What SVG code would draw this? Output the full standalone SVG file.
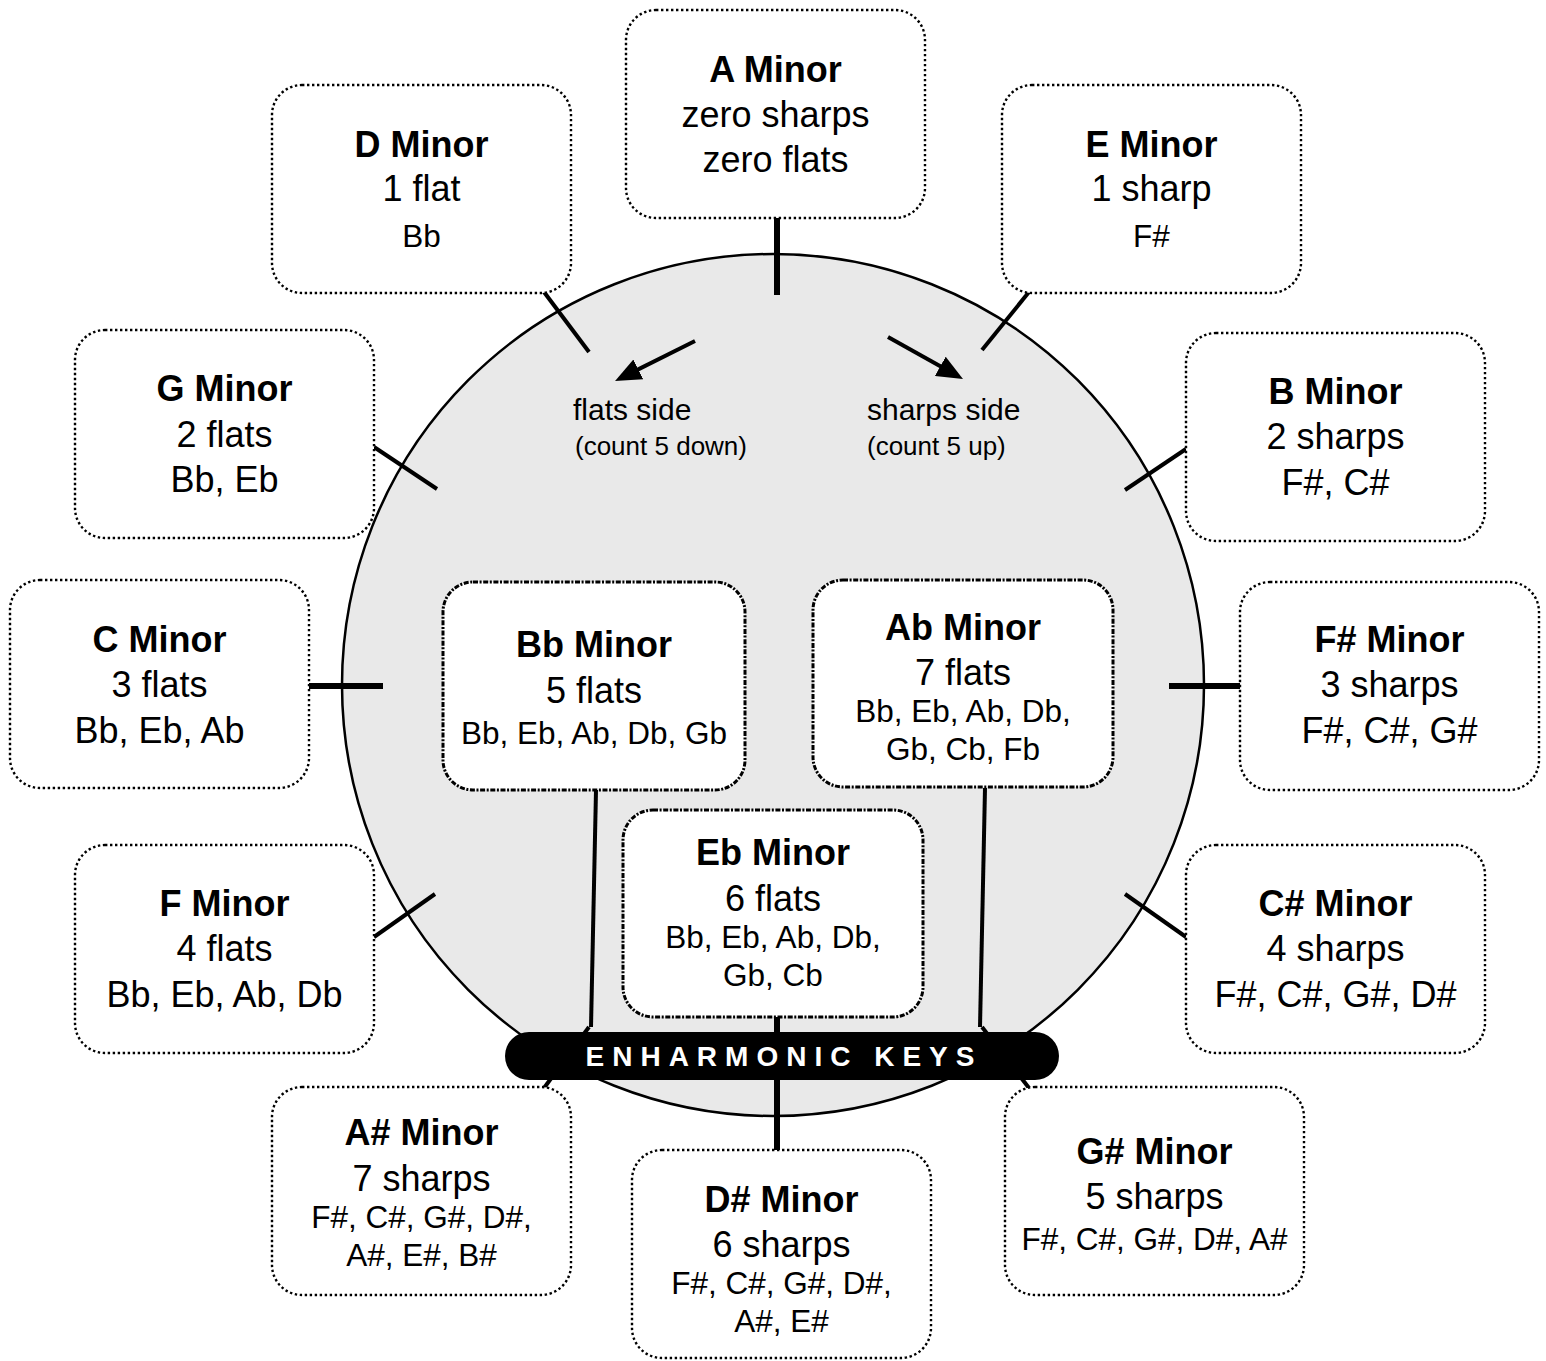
<svg xmlns="http://www.w3.org/2000/svg" width="1546" height="1361" viewBox="0 0 1546 1361">
<style>
.box{fill:#fff;stroke:#000;stroke-width:2.4;stroke-dasharray:2.4 2.6;}
.inner{fill:#fff;stroke:#000;stroke-width:3;stroke-dasharray:5 1.6 2 1.6;}
.t{font-family:"Liberation Sans",Arial,Helvetica,sans-serif;font-size:36px;text-anchor:middle;fill:#000;}
.b{font-weight:bold;}
.s{font-size:31.5px;}
.thick{stroke:#000;stroke-width:6;fill:none;}
.thin{stroke:#000;stroke-width:4;fill:none;}
.note{font-family:"Liberation Sans",Arial,Helvetica,sans-serif;fill:#000;}
</style>
<defs>
<marker id="ah" viewBox="0 0 26 22" refX="18" refY="11" markerWidth="26" markerHeight="22" markerUnits="userSpaceOnUse" orient="auto">
<path d="M0,0 L26,11 L0,22 z" fill="#000"/>
</marker>
</defs>
<rect width="1546" height="1361" fill="#fff"/>
<circle cx="773" cy="685" r="431" fill="#e9e9e9" stroke="#000" stroke-width="2.5"/>
<g id="connectors">
<line class="thick" x1="777" y1="218" x2="777" y2="295"/>
<line class="thin" x1="544" y1="292" x2="589" y2="352"/>
<line class="thin" x1="1029" y1="292" x2="982" y2="350"/>
<line class="thin" x1="374" y1="447" x2="437" y2="489"/>
<line class="thin" x1="1186" y1="449" x2="1125" y2="490"/>
<line class="thick" x1="308" y1="686" x2="383" y2="686"/>
<line class="thick" x1="1169" y1="686" x2="1243" y2="686"/>
<line class="thin" x1="374" y1="937" x2="435" y2="894"/>
<line class="thin" x1="1125" y1="894" x2="1186" y2="937"/>
<line class="thin" x1="544" y1="1088" x2="589" y2="1027"/>
<line class="thin" x1="1029" y1="1088" x2="982" y2="1027"/>
<polyline class="thin" points="596,790 591,1027"/>
<polyline class="thin" points="985,788 980,1027"/>
<line class="thick" x1="777" y1="1017" x2="777" y2="1150"/>
<line class="thin" x1="695" y1="341" x2="622.2" y2="377.4" marker-end="url(#ah)"/>
<line class="thin" x1="888" y1="337" x2="956" y2="375.1" marker-end="url(#ah)"/>
</g>
<text class="note" x="573" y="420" font-size="30">flats side</text>
<text class="note" x="575" y="455" font-size="26">(count 5 down)</text>
<text class="note" x="867" y="420" font-size="30">sharps side</text>
<text class="note" x="867" y="455" font-size="26">(count 5 up)</text>

<g id="a-minor"><rect class="box" x="626" y="10" width="299" height="208" rx="30"/>
<text class="t b" x="775.5" y="82">A Minor</text><text class="t" x="775.5" y="127">zero sharps</text><text class="t" x="775.5" y="172">zero flats</text></g>
<g id="d-minor"><rect class="box" x="272" y="85" width="299" height="208" rx="30"/>
<text class="t b" x="421.5" y="157">D Minor</text><text class="t" x="421.5" y="201">1 flat</text><text class="t s" x="421.5" y="247">Bb</text></g>
<g id="e-minor"><rect class="box" x="1002" y="85" width="299" height="208" rx="30"/>
<text class="t b" x="1151.5" y="157">E Minor</text><text class="t" x="1151.5" y="201">1 sharp</text><text class="t s" x="1151.5" y="247">F#</text></g>
<g id="g-minor"><rect class="box" x="75" y="330" width="299" height="208" rx="30"/>
<text class="t b" x="224.5" y="401">G Minor</text><text class="t" x="224.5" y="447">2 flats</text><text class="t" x="224.5" y="492">Bb, Eb</text></g>
<g id="b-minor"><rect class="box" x="1186" y="333" width="299" height="208" rx="30"/>
<text class="t b" x="1335.5" y="404">B Minor</text><text class="t" x="1335.5" y="449">2 sharps</text><text class="t" x="1335.5" y="495">F#, C#</text></g>
<g id="c-minor"><rect class="box" x="10" y="580" width="299" height="208" rx="30"/>
<text class="t b" x="159.5" y="652">C Minor</text><text class="t" x="159.5" y="697">3 flats</text><text class="t" x="159.5" y="743">Bb, Eb, Ab</text></g>
<g id="fsharp-minor"><rect class="box" x="1240" y="582" width="299" height="208" rx="30"/>
<text class="t b" x="1389.5" y="652">F# Minor</text><text class="t" x="1389.5" y="697">3 sharps</text><text class="t" x="1389.5" y="743">F#, C#, G#</text></g>
<g id="f-minor"><rect class="box" x="75" y="845" width="299" height="208" rx="30"/>
<text class="t b" x="224.5" y="916">F Minor</text><text class="t" x="224.5" y="961">4 flats</text><text class="t" x="224.5" y="1007">Bb, Eb, Ab, Db</text></g>
<g id="csharp-minor"><rect class="box" x="1186" y="845" width="299" height="208" rx="30"/>
<text class="t b" x="1335.5" y="916">C# Minor</text><text class="t" x="1335.5" y="961">4 sharps</text><text class="t" x="1335.5" y="1007">F#, C#, G#, D#</text></g>
<g id="asharp-minor"><rect class="box" x="272" y="1087" width="299" height="208" rx="30"/>
<text class="t b" x="421.5" y="1145">A# Minor</text><text class="t" x="421.5" y="1191">7 sharps</text><text class="t s" x="421.5" y="1228">F#, C#, G#, D#,</text><text class="t s" x="421.5" y="1266">A#, E#, B#</text></g>
<g id="gsharp-minor"><rect class="box" x="1005" y="1087" width="299" height="208" rx="30"/>
<text class="t b" x="1154.5" y="1164">G# Minor</text><text class="t" x="1154.5" y="1209">5 sharps</text><text class="t s" x="1154.5" y="1250">F#, C#, G#, D#, A#</text></g>
<g id="dsharp-minor"><rect class="box" x="632" y="1150" width="299" height="208" rx="30"/>
<text class="t b" x="781.5" y="1212">D# Minor</text><text class="t" x="781.5" y="1257">6 sharps</text><text class="t s" x="781.5" y="1294">F#, C#, G#, D#,</text><text class="t s" x="781.5" y="1332">A#, E#</text></g>
<g id="bb-minor"><rect class="inner" x="443" y="582" width="302" height="208" rx="30"/>
<text class="t b" x="594" y="657">Bb Minor</text><text class="t" x="594" y="703">5 flats</text><text class="t s" x="594" y="744">Bb, Eb, Ab, Db, Gb</text></g>
<g id="ab-minor"><rect class="inner" x="813" y="580" width="300" height="207" rx="30"/>
<text class="t b" x="963" y="640">Ab Minor</text><text class="t" x="963" y="685">7 flats</text><text class="t s" x="963" y="722">Bb, Eb, Ab, Db,</text><text class="t s" x="963" y="760">Gb, Cb, Fb</text></g>
<g id="eb-minor"><rect class="inner" x="623" y="810" width="300" height="207" rx="30"/>
<text class="t b" x="773" y="865">Eb Minor</text><text class="t" x="773" y="911">6 flats</text><text class="t s" x="773" y="948">Bb, Eb, Ab, Db,</text><text class="t s" x="773" y="986">Gb, Cb</text></g>
<g id="enharmonic-keys"><rect x="505" y="1032" width="554" height="48" rx="24" fill="#000"/>
<text x="784" y="1066" font-family="'Liberation Sans',Arial,Helvetica,sans-serif" font-weight="bold" font-size="28" letter-spacing="8" text-anchor="middle" fill="#fff">ENHARMONIC KEYS</text></g>
</svg>
